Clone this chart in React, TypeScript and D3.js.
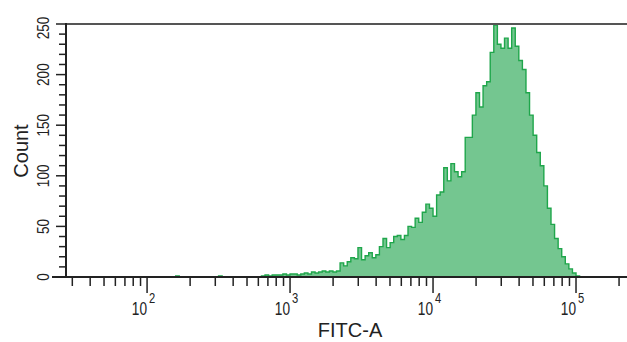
import React from "react";
import * as d3 from "d3";

// histogram bins in log10(FITC-A), first bin starts at 10^2
const binStart = 2.0;
const binWidth = 0.025;
const counts = [
  0, 0, 0, 0, 0, 0, 0, 0, 1, 0, 0, 0, 0, 0, 0, 0, 0, 0, 0, 0,
  1, 0, 0, 0, 0, 0, 0, 0, 0, 0, 0, 0, 1, 2, 1, 2, 2, 2, 3, 2,
  3, 3, 2, 3, 4, 3, 5, 4, 5, 6, 5, 6, 5, 6, 14, 11, 15, 19, 18, 29,
  17, 21, 24, 19, 22, 30, 38, 29, 34, 40, 41, 37, 41, 50, 49, 58, 54, 64, 72, 68,
  60, 81, 84, 108, 95, 112, 104, 99, 104, 138, 138, 160, 182, 168, 189, 193, 222, 249, 230, 226,
  236, 226, 246, 228, 214, 205, 182, 160, 140, 123, 110, 90, 68, 52, 38, 28, 20, 13, 8, 4,
  1, 0,
];

const yTicks = [0, 50, 100, 150, 200, 250];
const yMinor = [10, 20, 30, 40, 60, 70, 80, 90, 110, 120, 130, 140, 160, 170, 180, 190, 210, 220, 230, 240];
const xDecades = [2, 3, 4, 5];
const xMinorMult = [2, 3, 4, 5, 6, 7, 8, 9];

const W = 627;
const H = 342;
const left = 66;
const top = 24;
const bottom = 277;
const right = 627;

export default function App() {
  const x = d3.scaleLog().domain([27.1, 227300]).range([left, right]);
  const y = d3.scaleLinear().domain([0, 250]).range([bottom, top]);

  const pts = counts.map((c, i) => ({ v: Math.pow(10, binStart + i * binWidth), c }));
  pts.push({ v: Math.pow(10, binStart + counts.length * binWidth), c: 0 });

  const area = d3
    .area<{ v: number; c: number }>()
    .x((d) => x(d.v))
    .y0(y(0))
    .y1((d) => y(d.c))
    .curve(d3.curveStepAfter);
  const line = d3
    .line<{ v: number; c: number }>()
    .x((d) => x(d.v))
    .y((d) => y(d.c))
    .curve(d3.curveStepAfter);

  const minorX: number[] = [];
  [1, 2, 3, 4, 5].forEach((e) =>
    xMinorMult.forEach((m) => {
      const v = m * Math.pow(10, e);
      const px = x(v);
      if (px > left + 2 && px < right) minorX.push(px);
    })
  );

  const ink = "#222";
  const font = "'Liberation Sans', Arial, sans-serif";

  return (
    <svg width={W} height={H} style={{ position: "absolute", left: 0, top: 0, background: "#fff" }}>
      <rect width={W} height={H} fill="#fff" />
      <path d={area(pts) ?? ""} fill="#74c690" />
      <path d={line(pts) ?? ""} fill="none" stroke="#1fa64b" strokeWidth={1.4} />

      {/* frame */}
      <line x1={left} x2={right} y1={top} y2={top} stroke="#555" strokeWidth={2} />
      <line x1={left} x2={left} y1={top - 1} y2={bottom + 1} stroke={ink} strokeWidth={2} />
      <line x1={52} x2={right} y1={bottom} y2={bottom} stroke={ink} strokeWidth={2} />

      {/* y axis */}
      {yMinor.map((t) => (
        <line key={"ym" + t} x1={left - 7} x2={left} y1={y(t)} y2={y(t)} stroke={ink} strokeWidth={1.5} />
      ))}
      {yTicks.map((t) => (
        <g key={"y" + t}>
          <line x1={left - 10} x2={left} y1={y(t)} y2={y(t)} stroke={ink} strokeWidth={1.5} />
          <text
            transform={`translate(49,${y(t) + (t === 250 ? 4 : 0)}) rotate(-90) scale(0.8,1)`}
            textAnchor="middle"
            fontFamily={font}
            fontSize={17}
            fill={ink}
          >
            {t}
          </text>
        </g>
      ))}
      <text
        transform={`translate(28,151) rotate(-90)`}
        textAnchor="middle"
        fontFamily={font}
        fontSize={20}
        fill={ink}
      >
        Count
      </text>

      {/* x axis */}
      {minorX.map((px, i) => (
        <line key={"xm" + i} x1={px} x2={px} y1={bottom} y2={bottom + 9} stroke={ink} strokeWidth={1.5} />
      ))}
      {xDecades.map((e) => {
        const px = x(Math.pow(10, e));
        return (
          <g key={"x" + e}>
            <line x1={px} x2={px} y1={bottom} y2={bottom + 16} stroke={ink} strokeWidth={1.5} />
            <text
              transform={`translate(${px},315) scale(0.76,1)`}
              textAnchor="end"
              fontFamily={font}
              fontSize={18}
              fill={ink}
            >
              10
            </text>
            <text
              transform={`translate(${px + 2},303) scale(0.8,1)`}
              textAnchor="start"
              fontFamily={font}
              fontSize={14}
              fill={ink}
            >
              {e}
            </text>
          </g>
        );
      })}
      <text x={350} y={337} textAnchor="middle" fontFamily={font} fontSize={20} fill={ink}>
        FITC-A
      </text>
    </svg>
  );
}
